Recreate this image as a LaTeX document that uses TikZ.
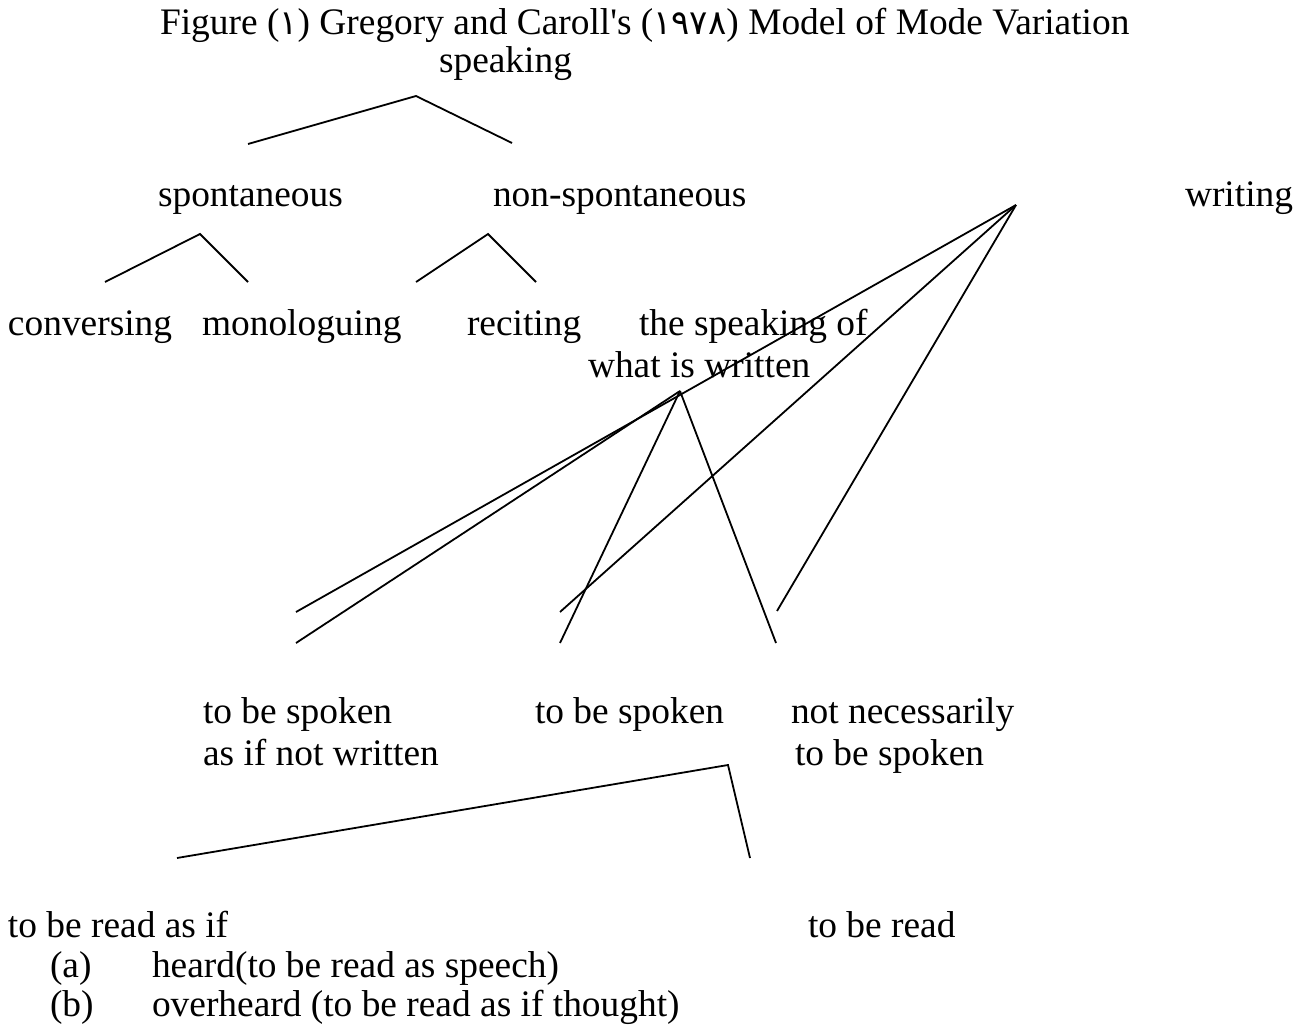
\documentclass[tikz,border=0pt]{standalone}
\usepackage{fontspec}
\setmainfont{Liberation Serif}
\newfontfamily\arabicdigits{DejaVu Sans}
\newcommand{\ad}[1]{{\arabicdigits\fontsize{17}{20}\selectfont #1}}
\begin{document}
\begin{tikzpicture}[x=0.5pt,y=-0.5pt,
  lbl/.style={anchor=base west,inner sep=0pt,outer sep=0pt,
    font=\fontsize{18.7}{22}\selectfont},
  branch/.style={line width=0.9pt,line join=miter}]
\useasboundingbox (0,0) rectangle (1304,1031);

% title
\node[lbl] (title) at (160,35) {Figure (\ad{١}) Gregory and Caroll\textquotesingle s (\ad{١٩٧٨}) Model of Mode Variation};

% speaking branch
\node[lbl] (speaking) at (439,73) {speaking};
\node[lbl] (spont) at (158,207) {spontaneous};
\node[lbl] (nonspont) at (493,207) {non-spontaneous};
\node[lbl] (writing) at (1185,207) {writing};
\node[lbl] (convers) at (8,336) {conversing};
\node[lbl] (monolog) at (202,336) {monologuing};
\node[lbl] (reciting) at (467,336) {reciting};
\node[lbl] (speakingof) at (639,336) {the speaking of};
\node[lbl] (whatwritten) at (588,378) {what is written};

% written modes
\node[lbl] (spokenA) at (203,723) {to be spoken};
\node[lbl] (spokenA2) at (203,765) {as if not written};
\node[lbl] (spokenB) at (535,723) {to be spoken};
\node[lbl] (notnec) at (791,723) {not necessarily};
\node[lbl] (notnec2) at (795,765) {to be spoken};
\node[lbl] (readas) at (8,937) {to be read as if};
\node[lbl] (read) at (808,937) {to be read};
\node[lbl] (itema) at (50,977) {(a)};
\node[lbl] (itemat) at (152,977) {heard(to be read as speech)};
\node[lbl] (itemb) at (50,1016) {(b)};
\node[lbl] (itembt) at (152,1016) {overheard (to be read as if thought)};

% branch points
\coordinate (sAp) at (416,96);
\coordinate (sL) at (248,144);
\coordinate (sR) at (512,143);
\coordinate (spAp) at (200,234);
\coordinate (spL) at (105,282);
\coordinate (spR) at (248,282);
\coordinate (nsAp) at (488,234);
\coordinate (nsL) at (416,282);
\coordinate (nsR) at (536,282);
\coordinate (wAp) at (1016,205);
\coordinate (wA) at (296,612);
\coordinate (wB) at (560,612);
\coordinate (wC) at (777,611);
\coordinate (wwAp) at (680,391);
\coordinate (wwA) at (296,643);
\coordinate (wwB) at (560,643);
\coordinate (wwC) at (776,643);
\coordinate (rAp) at (728,765);
\coordinate (rL) at (177,858);
\coordinate (rR) at (750,858);

\draw[branch] (sL) -- (sAp) -- (sR);
\draw[branch] (spL) -- (spAp) -- (spR);
\draw[branch] (nsL) -- (nsAp) -- (nsR);
\draw[branch] (wAp) -- (wA);
\draw[branch] (wAp) -- (wB);
\draw[branch] (wAp) -- (wC);
\draw[branch] (wwAp) -- (wwA);
\draw[branch] (wwAp) -- (wwB);
\draw[branch] (wwAp) -- (wwC);
\draw[branch] (rL) -- (rAp) -- (rR);
\end{tikzpicture}
\end{document}
